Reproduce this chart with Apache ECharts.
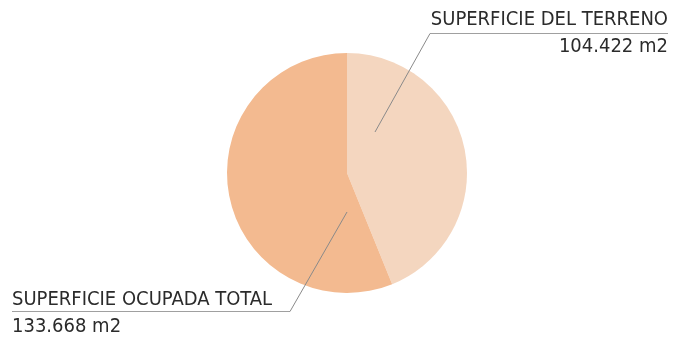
<!DOCTYPE html>
<html><head><meta charset="utf-8">
<script src="https://cdn.jsdelivr.net/npm/echarts@6/dist/echarts.min.js"></script>
<style>html,body{margin:0;padding:0;background:#fff}#c{width:677px;height:342px}</style>
</head><body><div id="c"></div>
<script>
const categories = ['SUPERFICIE DEL TERRENO', 'SUPERFICIE OCUPADA TOTAL'];
const values = [104422, 133668];
const valueLabels = ['104.422 m2', '133.668 m2'];
const colors = ['#f4d6bf', '#f3ba90'];

const chart = echarts.init(document.getElementById('c'));
const FONT = '"DejaVu Sans Condensed", "Liberation Sans Narrow", "Noto Sans", sans-serif';
const textStyle = (t, x, y, align) => ({
  type: 'text', x: x, y: y,
  style: { text: t, fill: '#2b2b2b', font: '20px ' + FONT, textAlign: align, textVerticalAlign: 'middle' }
});
const line = (x1, y1, x2, y2, c) => ({
  type: 'line', shape: { x1, y1, x2, y2 }, style: { stroke: c || '#8a8a8a', lineWidth: 1 }, z: 10
});
chart.setOption({
  animation: false,
  series: [{
    type: 'pie',
    center: [347, 173],
    radius: 120,
    startAngle: 90,
    clockwise: true,
    label: { show: false },
    labelLine: { show: false },
    emphasis: { disabled: true },
    data: categories.map((n, i) => ({ name: n, value: values[i], itemStyle: { color: colors[i] } }))
  }],
  graphic: [
    textStyle(categories[0], 668, 20, 'right'),
    textStyle(valueLabels[0], 668, 47, 'right'),
    line(430, 33.5, 668, 33.5, '#a0a0a0'),
    line(430, 33.5, 375, 132),
    textStyle(categories[1], 12, 300, 'left'),
    textStyle(valueLabels[1], 12, 327, 'left'),
    line(12, 311.5, 290, 311.5, '#a0a0a0'),
    line(290, 311.5, 347, 212)
  ]
});
</script></body></html>
